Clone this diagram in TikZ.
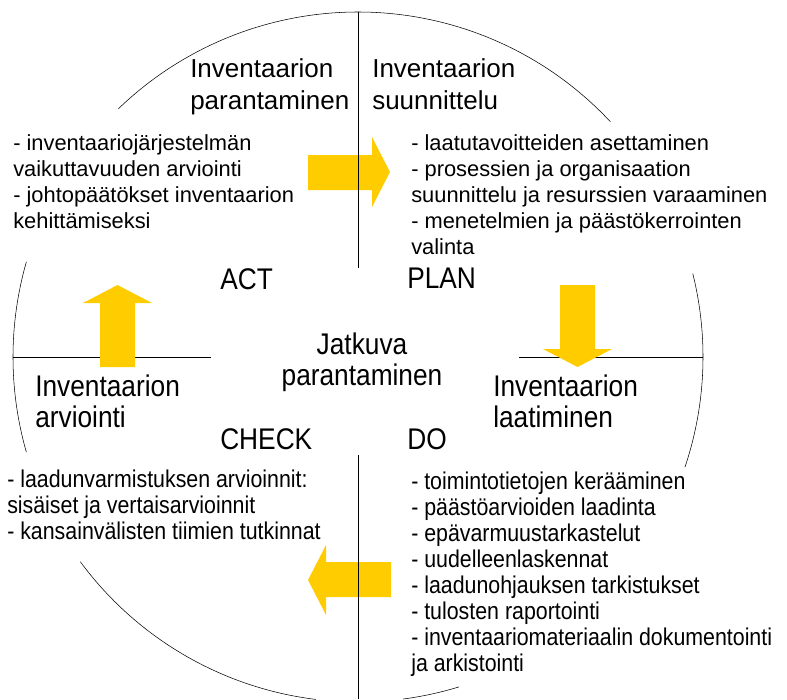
\documentclass[tikz,border=0pt]{standalone}
\usepackage{fontspec}
\setmainfont{Liberation Sans}
\newfontfamily\narrowfont[FakeStretch=0.88]{Liberation Sans}
\usepackage{tikz}
\definecolor{cycleyellow}{HTML}{FFCC00}

\begin{document}
\begin{tikzpicture}[x=0.75pt, y=-0.75pt,
	titlebox/.style={anchor=north west, inner sep=0pt, align=left, font=\fontsize{19.5}{24}\selectfont},
	listbox/.style={anchor=north west, inner sep=0pt, align=left, font=\fontsize{16.4}{19.5}\selectfont},
	phasebox/.style={anchor=north west, inner sep=0pt, align=left, font=\narrowfont\fontsize{22.4}{23.3}\selectfont},
	narrowlist/.style={anchor=north west, inner sep=0pt, align=left, font=\narrowfont\fontsize{18.2}{19.5}\selectfont},
	blockarrow/.style={fill=cycleyellow, draw=none}]
		\clip (0,0) rectangle (787,699);
		
		%coordinates
		\coordinate (ctr)  at (358,357);
		\coordinate (topV) at (358,12);
		\coordinate (midVa) at (358,268);
		\coordinate (midVb) at (358,455);
		\coordinate (botV) at (358,699);
		\coordinate (leftH) at (13,357);
		\coordinate (midHa) at (211,357);
		\coordinate (midHb) at (519,357);
		\coordinate (rightH) at (703,357);
		
		%circle pieces
		\draw (ctr) ++(-43:345) arc[start angle=-43, end angle=-134, radius=345];
		\draw (ctr) ++(-164:345) arc[start angle=-164, end angle=-196, radius=345];
		\draw (ctr) ++(-216.4:345) arc[start angle=-216.4, end angle=-263, radius=345];
		\draw (ctr) ++(-277.5:345) arc[start angle=-277.5, end angle=-287, radius=345];
		\draw (ctr) ++(18.6:345) arc[start angle=18.6, end angle=-14, radius=345];
		\draw (leftH) -- (midHa);
		\draw (midHb) -- (rightH);
		
		%arrows
		\fill[blockarrow] (308,155) -- (372,155) -- (372,137) -- (390,172) -- (372,207) -- (372,190) -- (308,190) -- cycle;
		\fill[blockarrow] (560,285) -- (595,285) -- (595,349) -- (612,349) -- (577.5,367) -- (543,349) -- (560,349) -- cycle;
		\fill[blockarrow] (391,562) -- (326,562) -- (326,545) -- (308,580) -- (326,615) -- (326,597) -- (391,597) -- cycle;
		\fill[blockarrow] (100,367) -- (135,367) -- (135,303) -- (152,303) -- (117.5,285) -- (83,303) -- (100,303) -- cycle;
		
		\draw (topV) -- (midVa);
		\draw (midVb) -- (botV);
		
		%nodes
		\node[titlebox] (actTitle) at (190,58) {Inventaarion\\parantaminen};
		\node[titlebox] (planTitle) at (372,58) {Inventaarion\\suunnittelu};
		\node[listbox] (actList) at (13,134) {- inventaariojärjestelmän\\vaikuttavuuden arviointi\\- johtopäätökset inventaarion\\kehittämiseksi};
		\node[listbox] (planList) at (411,134) {- laatutavoitteiden asettaminen\\- prosessien ja organisaation\\suunnittelu ja resurssien varaaminen\\- menetelmien ja päästökerrointen\\valinta};
		
		\node[phasebox] (act) at (220,268) {ACT};
		\node[phasebox] (plan) at (407,268) {PLAN};
		\node[phasebox, anchor=center, align=center] (centre) at (362,362) {Jatkuva\\parantaminen};
		\node[phasebox] (checkTitle) at (35,375) {Inventaarion\\arviointi};
		\node[phasebox] (doTitle) at (493,375) {Inventaarion\\laatiminen};
		\node[phasebox] (check) at (220,428) {CHECK};
		\node[phasebox] (do) at (407,428) {DO};
		
		\node[narrowlist] (checkList) at (7,470) {- laadunvarmistuksen arvioinnit:\\sisäiset ja vertaisarvioinnit\\- kansainvälisten tiimien tutkinnat};
		\node[narrowlist] (doList) at (411,472) {- toimintotietojen kerääminen\\- päästöarvioiden laadinta\\- epävarmuustarkastelut\\- uudelleenlaskennat\\- laadunohjauksen tarkistukset\\- tulosten raportointi\\- inventaariomateriaalin dokumentointi\\ja arkistointi};
\end{tikzpicture}
\end{document}
